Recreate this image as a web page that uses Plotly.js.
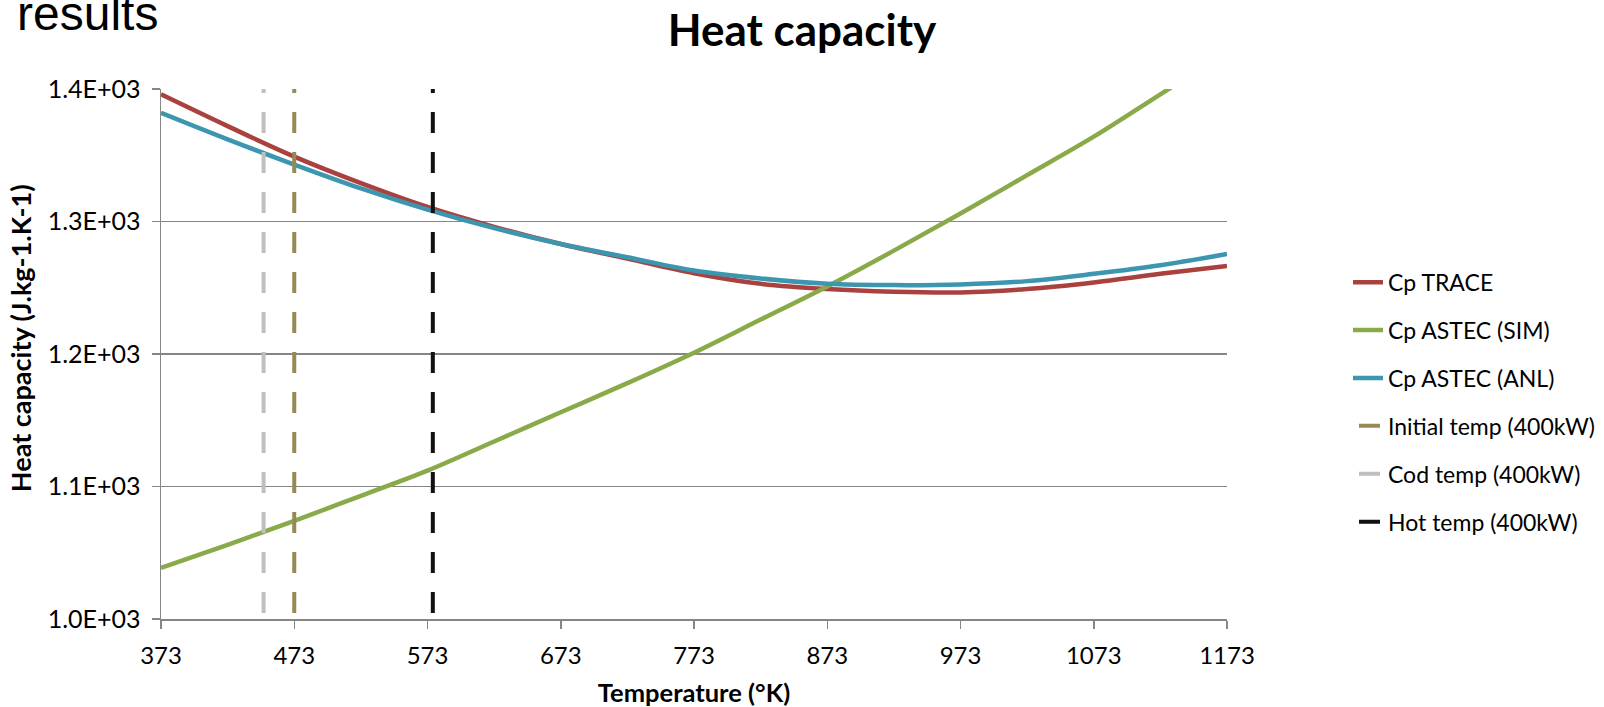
<!DOCTYPE html>
<html>
<head>
<meta charset="utf-8">
<script src="https://cdn.plot.ly/plotly-3.0.1.min.js"></script>
<style>
  html, body { margin: 0; padding: 0; background: #ffffff; }
  #chart { width: 1604px; height: 707px; }
</style>
</head>
<body>
<div id="chart"></div>
<script>
// ---- Data ----
const temperatures = [373, 423, 473, 523, 573, 623, 673, 723, 773, 823, 873, 923, 973, 1023, 1073, 1123, 1173];
const cpTrace    = [1396, 1372, 1349, 1329, 1311, 1296, 1283, 1272, 1261, 1253, 1249, 1247, 1246.5, 1249, 1254, 1260.5, 1266.5];
const cpAstecSim = [1038.5, 1056, 1074, 1093, 1112, 1134, 1156, 1178, 1201, 1226, 1251, 1278, 1306, 1335, 1364, 1396, 1428];
const cpAstecAnl = [1382, 1362, 1343, 1325, 1309, 1295, 1283, 1273, 1263, 1257, 1253, 1252, 1252.5, 1255, 1260.5, 1267, 1275.5];

const initialTemp = 473;  // Initial temp (400kW)
const codTemp = 450;      // Cod temp (400kW)
const hotTemp = 577;      // Hot temp (400kW)

const xTickVals = [373, 473, 573, 673, 773, 873, 973, 1073, 1173];
const xTickText = ['373', '473', '573', '673', '773', '873', '973', '1073', '1173'];
const yTickVals = [1000, 1100, 1200, 1300, 1400];
const yTickText = ['1.0E+03', '1.1E+03', '1.2E+03', '1.3E+03', '1.4E+03'];

const xRange = [373, 1173];
const yRange = [1000, 1400];

// ---- Styles ----
const FONT = 'Lato, "Open Sans", sans-serif';
const dashPattern = '0px,6px,21px,13px';

const traces = [
  { name: 'Cp TRACE', x: temperatures, y: cpTrace, color: '#A9423F' },
  { name: 'Cp ASTEC (SIM)', x: temperatures, y: cpAstecSim, color: '#8AAA4A' },
  { name: 'Cp ASTEC (ANL)', x: temperatures, y: cpAstecAnl, color: '#3D96B0' }
].map((s, i) => ({
  type: 'scatter', mode: 'lines', name: s.name, x: s.x, y: s.y,
  legendgroup: 'g' + i,
  line: { color: s.color, width: 4.5, shape: 'spline', smoothing: 1 },
  hoverinfo: 'skip'
}));

[
  { name: 'Initial temp (400kW)', t: initialTemp, color: '#958A54' },
  { name: 'Cod temp (400kW)', t: codTemp, color: '#BFBFBF' },
  { name: 'Hot temp (400kW)', t: hotTemp, color: '#111111' }
].forEach((s, i) => {
  traces.push({
    type: 'scatter', mode: 'lines', name: s.name,
    x: [s.t, s.t], y: [yRange[0], yRange[1]],
    legendgroup: 'v' + i,
    line: { color: s.color, width: 4, dash: dashPattern },
    hoverinfo: 'skip'
  });
});

const axisColor = '#868686';

const layout = {
  width: 1604, height: 707,
  paper_bgcolor: '#ffffff', plot_bgcolor: '#ffffff',
  margin: { l: 161, r: 377, t: 89, b: 88, pad: 0, autoexpand: false },
  font: { family: FONT, color: '#000000', size: 22 },
  title: {
    text: 'Heat capacity',
    font: { family: FONT, size: 44, weight: 700, color: '#000000' },
    x: 0.5, xref: 'container', xanchor: 'center',
    y: 0.957, yref: 'container', yanchor: 'middle'
  },
  xaxis: {
    range: xRange,
    tickmode: 'array', tickvals: xTickVals, ticktext: xTickText,
    showgrid: false, zeroline: false,
    showline: true, linecolor: axisColor, linewidth: 1.5,
    ticks: 'outside', ticklen: 8, tickwidth: 1.5, tickcolor: axisColor,
    tickfont: { family: FONT, size: 24, color: '#000000' },
    ticklabelstandoff: 7,
    title: { text: 'Temperature (°K)', font: { family: FONT, size: 25.5, weight: 700 }, standoff: 16 }
  },
  yaxis: {
    range: yRange,
    tickmode: 'array', tickvals: yTickVals, ticktext: yTickText,
    showgrid: true, gridcolor: axisColor, gridwidth: 1.5,
    zeroline: false,
    showline: true, linecolor: axisColor, linewidth: 1.5,
    ticks: 'outside', ticklen: 8, tickwidth: 1.5, tickcolor: axisColor,
    tickfont: { family: FONT, size: 25, color: '#000000' },
    ticklabelstandoff: 6
  },
  legend: {
    x: 1.1135, xanchor: 'left', xref: 'paper',
    y: 0.676, yanchor: 'top',
    font: { family: FONT, size: 23, color: '#000000' },
    tracegroupgap: 15,
    itemwidth: 30,
    bgcolor: 'rgba(0,0,0,0)'
  },
  showlegend: true,
  annotations: [
    {
      text: 'results', showarrow: false,
      xref: 'paper', yref: 'paper',
      x: -0.137, xanchor: 'left',
      y: 1.089, yanchor: 'bottom',
      font: { family: '"Liberation Sans", Arial, sans-serif', size: 48, color: '#000000' }
    },
    {
      text: 'Heat capacity (J.kg-1.K-1)', showarrow: false,
      xref: 'paper', yref: 'paper',
      x: -0.1318, xanchor: 'center',
      y: 0.529, yanchor: 'middle',
      textangle: -90,
      font: { family: FONT, size: 27, weight: 700, color: '#000000' }
    }
  ]
};

Plotly.newPlot('chart', traces, layout, { staticPlot: true, displayModeBar: false });
</script>
</body>
</html>
